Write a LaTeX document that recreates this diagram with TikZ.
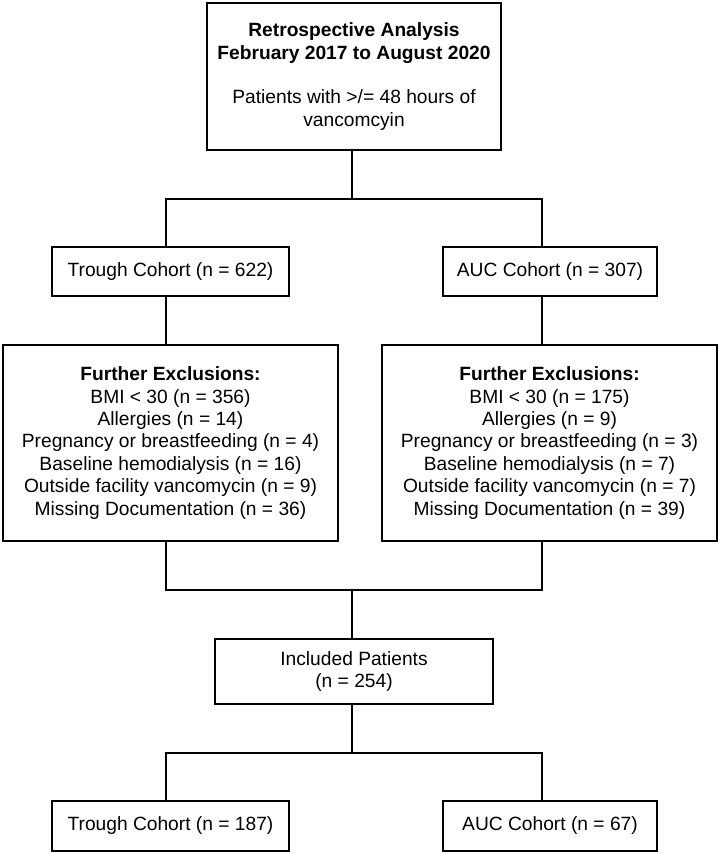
\documentclass[tikz,border=0pt]{standalone}
\usepackage{fontspec}
\setmainfont{Liberation Sans}
\usepackage{tikz}
\usetikzlibrary{positioning}
\usetikzlibrary{calc}

\tikzset{
  box/.style 2 args={draw, line width=0.7pt, align=center, inner sep=1pt,
    minimum width=#1, minimum height=#2},
  link/.style={line width=0.7pt}
}

\begin{document}
\begin{tikzpicture}[x=0.5pt, y=-0.5pt, font=\fontsize{9.6}{11.2}\selectfont]
\useasboundingbox (0,0) rectangle (720,854);

% boxes
\node[box={147pt}{73.5pt}] at (354,76.5) (top)
  {\textbf{Retrospective Analysis}\\\textbf{February 2017 to August 2020}\\[11.2pt]
   Patients with >/= 48 hours of\\vancomcyin};

\node[box={118.5pt}{24.5pt}] at (170.5,271.5) (trough1) {Trough Cohort (n = 622)};
\node[box={107pt}{24.5pt}] at (550,271.5) (auc1) {AUC Cohort (n = 307)};

\node[box={167.5pt}{98pt}] at (170.5,443) (exclL)
  {\textbf{Further Exclusions:}\\BMI < 30 (n = 356)\\Allergies (n = 14)\\
   Pregnancy or breastfeeding (n = 4)\\Baseline hemodialysis (n = 16)\\
   Outside facility vancomycin (n = 9)\\Missing Documentation (n = 36)};
\node[box={167.5pt}{98pt}] at (549.5,443) (exclR)
  {\textbf{Further Exclusions:}\\BMI < 30 (n = 175)\\Allergies (n = 9)\\
   Pregnancy or breastfeeding (n = 3)\\Baseline hemodialysis (n = 7)\\
   Outside facility vancomycin (n = 7)\\Missing Documentation (n = 39)};

\node[box={139pt}{32.5pt}] at (354,671.5) (incl) {Included Patients\\(n = 254)};

\node[box={118.5pt}{25pt}] at (170.5,826) (trough2) {Trough Cohort (n = 187)};
\node[box={107pt}{25pt}] at (550,826) (auc2) {AUC Cohort (n = 67)};

% branch points
\coordinate (xl) at (166,0);
\coordinate (xr) at (542,0);
\coordinate (split1) at (352,199);
\coordinate (merge) at (352,590);
\coordinate (split2) at (352,753);

\draw[link] (top.south -| split1) -- (split1);
\draw[link] (trough1.north -| xl) |- (split1) -| (auc1.north -| xr);
\draw[link] (trough1.south -| xl) -- (exclL.north -| xl);
\draw[link] (auc1.south -| xr) -- (exclR.north -| xr);

\draw[link] (exclL.south -| xl) |- (merge) -| (exclR.south -| xr);
\draw[link] (merge) -- (incl.north -| merge);

\draw[link] (incl.south -| split2) -- (split2);
\draw[link] (trough2.north -| xl) |- (split2) -| (auc2.north -| xr);
\end{tikzpicture}
\end{document}
